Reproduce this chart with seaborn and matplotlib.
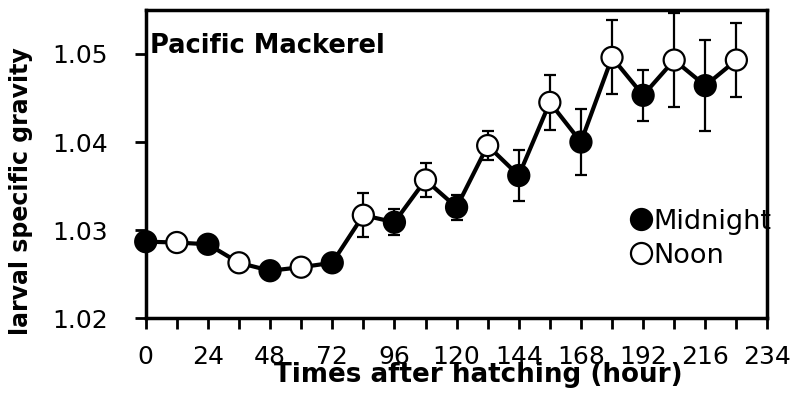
import matplotlib.pyplot as plt
import pandas as pd
import seaborn as sns

# larval specific gravity, Pacific mackerel
hours = [0, 12, 24, 36, 48, 60, 72, 84, 96, 108, 120, 132, 144, 156, 168, 180, 192, 204, 216, 228]
gravity = [1.0287, 1.0286, 1.0284, 1.0263, 1.0254, 1.0258, 1.0263, 1.0317, 1.0309, 1.0357,
           1.0326, 1.0396, 1.0362, 1.0445, 1.0400, 1.0496, 1.0453, 1.0493, 1.0464, 1.0493]
sd = [0.0004, 0.0003, 0.0005, 0.0007, 0.0008, 0.0004, 0.0004, 0.0025, 0.0015, 0.0019,
      0.0014, 0.0016, 0.0029, 0.0031, 0.0037, 0.0042, 0.0029, 0.0053, 0.0052, 0.0042]
period = ['Midnight', 'Noon'] * 10

xticks = [0, 24, 48, 72, 96, 120, 144, 168, 192, 216, 240]
xticklabels = ['0', '24', '48', '72', '96', '120', '144', '168', '192', '216', '234']
yticks = [1.02, 1.03, 1.04, 1.05]
yticklabels = ['1.02', '1.03', '1.04', '1.05']

df = pd.DataFrame({'hour': hours, 'gravity': gravity, 'sd': sd, 'period': period})

sns.set_style('ticks')
plt.rcParams['font.family'] = ['DejaVu Sans']
plt.rcParams['text.color'] = 'black'
plt.rcParams['axes.labelcolor'] = 'black'
plt.rcParams['xtick.color'] = 'black'
plt.rcParams['ytick.color'] = 'black'

fig, ax = plt.subplots(figsize=(7.92, 3.93), dpi=100)
fig.subplots_adjust(left=0.184, right=0.969, bottom=0.19, top=0.975)

ax.errorbar(df['hour'], df['gravity'], yerr=df['sd'], fmt='none', ecolor='black',
            elinewidth=1.6, capsize=4, capthick=1.6, zorder=1)
sns.lineplot(data=df, x='hour', y='gravity', color='black', linewidth=3, ax=ax, zorder=2)
sns.scatterplot(data=df, x='hour', y='gravity', hue='period',
                palette={'Midnight': 'black', 'Noon': 'white'}, edgecolor='black',
                linewidth=1.6, s=230, ax=ax, zorder=3, clip_on=False)

ax.set_xlim(0, 240)
ax.set_ylim(1.02, 1.055)
ax.set_xticks(xticks, xticklabels)
ax.set_xticks(range(12, 240, 24), minor=True)
ax.set_yticks(yticks, yticklabels)
ax.tick_params(which='both', direction='out', length=8, width=2, color='black')
ax.tick_params(axis='x', labelsize=18, pad=11.5, labelcolor='black')
ax.tick_params(axis='y', labelsize=18, pad=19, labelcolor='black')
for sp in ax.spines.values():
    sp.set_linewidth(2.5)
    sp.set_color('black')

ax.set_xlabel('Times after hatching (hour)', fontsize=18.8, fontweight='bold')
ax.set_ylabel('larval specific gravity', fontsize=17, fontweight='bold')
ax.xaxis.set_label_coords(0.5356, -0.143)
ax.yaxis.set_label_coords(-0.182, 0.413)

ax.text(0.0076, 0.8596, 'Pacific Mackerel', transform=ax.transAxes, fontsize=18.5,
        fontweight='bold', va='baseline', ha='left')

ax.legend(title=None, frameon=False, loc='center left', bbox_to_anchor=(0.781, 0.258),
          fontsize=19.5, handlelength=0.75, handletextpad=0.05, labelspacing=0.28,
          borderpad=0, borderaxespad=0)

plt.savefig('out.png', dpi=100)
